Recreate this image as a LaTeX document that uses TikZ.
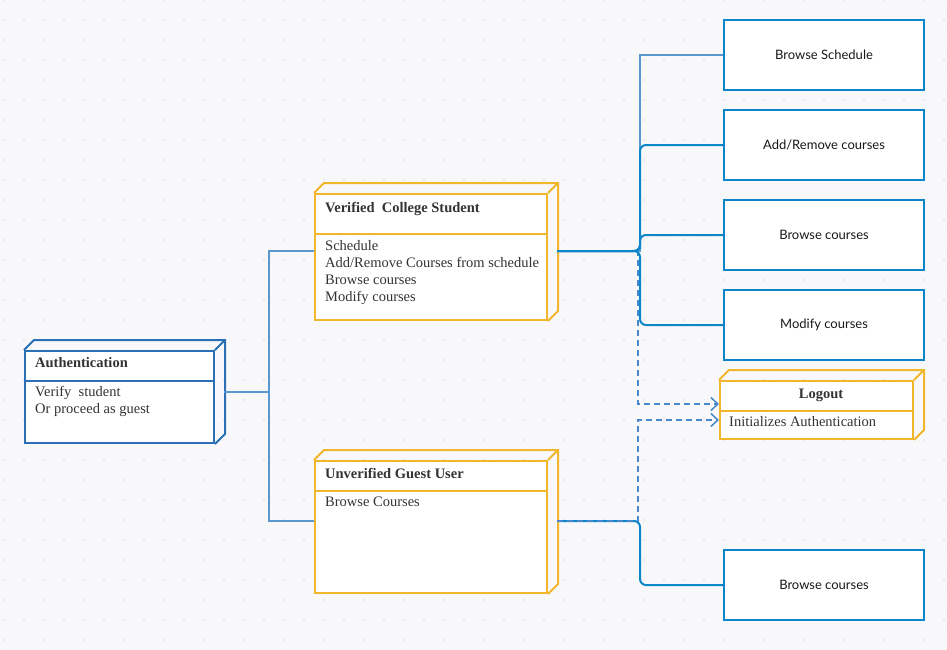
\documentclass[tikz,border=0pt]{standalone}
\usepackage{fontspec}
\setmainfont{Liberation Serif}
\newfontfamily\boxfont{Lato}
\usetikzlibrary{calc,arrows.meta}
\definecolor{paper}{HTML}{F8F8FA}
\definecolor{griddot}{HTML}{DCDCE0}
\definecolor{authblue}{HTML}{2B6FB6}
\definecolor{caseblue}{HTML}{0A86C9}
\definecolor{linkblue}{HTML}{5A97CF}
\definecolor{dashblue}{HTML}{4A88CC}
\definecolor{nodeyellow}{HTML}{F1B62B}
\definecolor{ink}{HTML}{333333}
\tikzset{
	umlbox/.style={draw, fill=white, line width=2pt, inner sep=0pt},
	title/.style={anchor=base west, inner sep=0pt, text=ink, font=\fontsize{14.5}{17}\selectfont\bfseries},
	body/.style={anchor=base west, inner sep=0pt, text=ink, align=left, font=\fontsize{14.5}{17}\selectfont},
	casebox/.style={draw=caseblue, fill=white, line width=2pt, minimum width=200pt, minimum height=70pt, text=black!90, font=\boxfont\fontsize{13}{15}\selectfont},
	link/.style={draw=caseblue, line width=2pt, rounded corners=6pt},
	thinlink/.style={draw=linkblue, line width=1.5pt},
	dashlink/.style={draw=dashblue, line width=1.5pt, dash pattern=on 6pt off 4pt, -{Straight Barb[length=7pt,width=13pt]}}
}
\def\boxdepth[#1](#2){\draw[#1] (#2.north west) -- ++(10,-10) -| ($(#2.south east)+(10,-10)$) -- (#2.south east) (#2.north east) -- ++(10,-10);}

\begin{document}
\begin{tikzpicture}[x=1pt, y=-1pt]
				\useasboundingbox (0,0) rectangle (947,650);
				\fill[paper] (0,0) rectangle (947,650);
				\foreach \i in {0,...,47}
					\foreach \j in {0,...,32}
						\fill[griddot] (20*\i+4, 20*\j) circle (0.9pt);
				
				% authentication
				\node[umlbox, draw=authblue, minimum width=189pt, minimum height=92pt] (auth) at (119.5, 397) {};
				\boxdepth[authblue, line width=2pt](auth);
				\draw[authblue, line width=2pt] (auth.west |- 0,381) -- (auth.east |- 0,381);
				\node[title] (auth-t) at (35, 367) {Authentication};
				\node[body] (auth-b) at (35, 413) {Verify\ \ student\\Or proceed as guest};
				\coordinate (auth-r) at ($(auth.east)+(9,-5)$);
				
				% verified student
				\node[umlbox, draw=nodeyellow, minimum width=232pt, minimum height=126pt] (vcs) at (431, 257) {};
				\boxdepth[nodeyellow, line width=2pt](vcs);
				\draw[nodeyellow, line width=2pt] (vcs.west |- 0,234) -- (vcs.east |- 0,234);
				\node[title] (vcs-t) at (325, 212) {Verified\ \ College Student};
				\node[body] (vcs-b) at (325, 301) {Schedule\\Add/Remove Courses from schedule\\Browse courses\\Modify courses};
				\coordinate (vcs-l) at ($(vcs.west)+(0,-6)$);
				\coordinate (vcs-r) at ($(vcs.east)+(9,-6)$);
				
				% guest user
				\node[umlbox, draw=nodeyellow, minimum width=232pt, minimum height=132pt] (gus) at (431, 527) {};
				\boxdepth[nodeyellow, line width=2pt](gus);
				\draw[nodeyellow, line width=2pt] (gus.west |- 0,491) -- (gus.east |- 0,491);
				\node[title] (gus-t) at (325, 478) {Unverified Guest User};
				\node[body] (gus-b) at (325, 506) {Browse Courses};
				\coordinate (gus-l) at ($(gus.west)+(0,-6)$);
				\coordinate (gus-r) at ($(gus.east)+(9,-6)$);
				
				% logout
				\node[umlbox, draw=nodeyellow, minimum width=193pt, minimum height=58pt] (logout) at (816.5, 410) {};
				\boxdepth[nodeyellow, line width=2pt](logout);
				\draw[nodeyellow, line width=2pt] (logout.west |- 0,411) -- (logout.east |- 0,411);
				\node[title, anchor=base] (logout-t) at (821, 398) {Logout};
				\node[body] (logout-b) at (729, 426) {Initializes Authentication};
				
				% actions
				\node[casebox] (sched) at (824, 55) {Browse Schedule};
				\node[casebox] (addrm) at (824, 145) {Add/Remove courses};
				\node[casebox] (browse) at (824, 235) {Browse courses};
				\node[casebox] (modify) at (824, 325) {Modify courses};
				\node[casebox] (gbrowse) at (824, 585) {Browse courses};
				
				\draw[thinlink] (auth-r) -| ($(auth-r)!0.5!(vcs-l)$) |- (vcs-l);
				\draw[thinlink] (auth-r) -| ($(auth-r)!0.5!(gus-l)$) |- (gus-l);
				
				\draw[dashlink] (vcs-r) -| ($(vcs-r)!0.5!(logout.west)$) |- ($(logout.west)+(0,-6)$);
				\draw[thinlink] (vcs-r) -| ($(vcs-r)!0.5!(sched.west)$) |- (sched.west);
				\draw[link] (vcs-r) -| ($(vcs-r)!0.5!(addrm.west)$) |- (addrm.west);
				\draw[link] (vcs-r) -| ($(vcs-r)!0.5!(browse.west)$) |- (browse.west);
				\draw[link] (vcs-r) -| ($(vcs-r)!0.5!(modify.west)$) |- (modify.west);
				
				\draw[link] (gus-r) -| ($(gus-r)!0.5!(gbrowse.west)$) |- (gbrowse.west);
				\draw[dashlink] (gus-r) -| ($(gus-r)!0.5!(logout.west)$) |- ($(logout.west)+(0,10)$);
\end{tikzpicture}
\end{document}
